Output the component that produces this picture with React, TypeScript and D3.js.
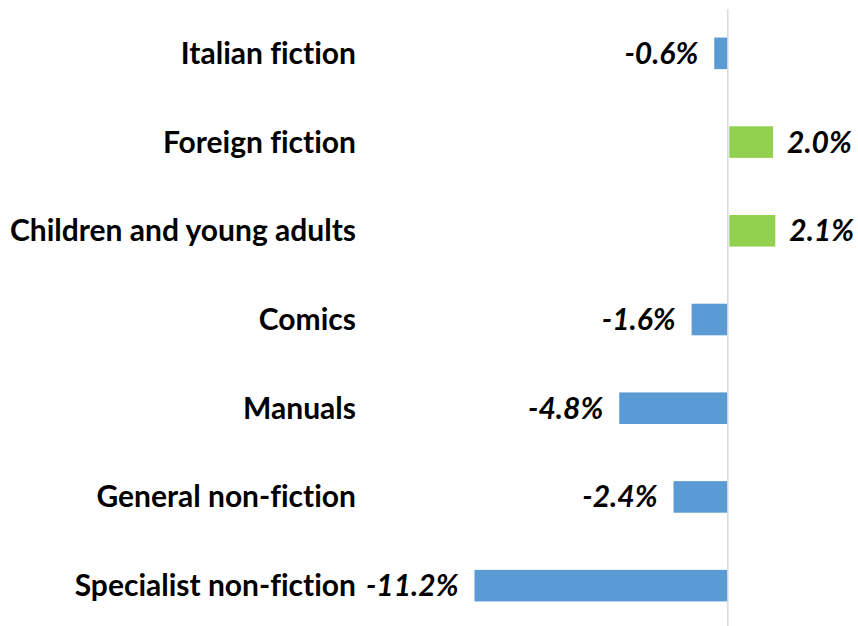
import React from "react";
import * as d3 from "d3";

const categories = [
  "Italian fiction",
  "Foreign fiction",
  "Children and young adults",
  "Comics",
  "Manuals",
  "General non-fiction",
  "Specialist non-fiction",
];
const values = [-0.6, 2.0, 2.1, -1.6, -4.8, -2.4, -11.2];
const valueLabels = ["-0.6%", "2.0%", "2.1%", "-1.6%", "-4.8%", "-2.4%", "-11.2%"];

const W = 858;
const H = 626;
const BLUE = "#5b9bd5";
const GREEN = "#92d050";
const FONT = "Lato, 'Open Sans', sans-serif";

export default function App() {
  const x = d3.scaleLinear().domain([-11.2, 2.1]).range([474.5, 775.3]);
  const y = d3
    .scaleBand<string>()
    .domain(categories)
    .range([9, 630])
    .paddingInner(0.644)
    .paddingOuter(0.322);
  const x0 = x(0);
  const bw = y.bandwidth();
  const textStyle = { fontVariantLigatures: "none" as const, fontFeatureSettings: "'liga' 0, 'clig' 0" };

  return (
    <svg
      width={W}
      height={H}
      style={{ position: "absolute", left: 0, top: 0, background: "#fff" }}
    >
      {categories.map((c, i) => {
        const v = values[i];
        const yc = (y(c) as number) + bw / 2;
        const x1 = v < 0 ? x(v) : x0 + 1.5;
        const x2 = v < 0 ? x0 : x(v);
        return (
          <g key={c}>
            <rect
              x={x1}
              y={y(c)}
              width={x2 - x1}
              height={bw}
              fill={v < 0 ? BLUE : GREEN}
            />
            <text
              x={356}
              y={yc}
              dy="0.35em"
              textAnchor="end"
              fontFamily={FONT}
              fontWeight="bold"
              fontSize={30}
              fill="#000"
              style={textStyle}
            >
              {c}
            </text>
            <text
              x={v < 0 ? x1 - 16 : x2 + 14}
              y={yc}
              dy="0.35em"
              textAnchor={v < 0 ? "end" : "start"}
              fontFamily={FONT}
              fontWeight="bold"
              fontStyle="italic"
              fontSize={30}
              fill="#000"
              style={textStyle}
            >
              {valueLabels[i]}
            </text>
          </g>
        );
      })}
      <line
        x1={x0}
        x2={x0}
        y1={9}
        y2={626}
        stroke="#d9d9d9"
        strokeWidth={1.5}
      />
    </svg>
  );
}
